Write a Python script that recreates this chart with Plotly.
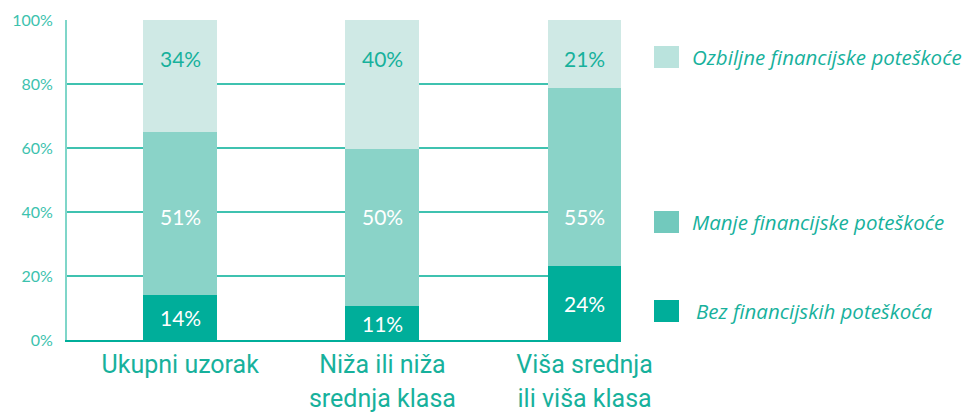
import plotly.graph_objects as go

categories = ["Ukupni uzorak", "Niža ili niža<br>srednja klasa", "Viša srednja<br>ili viša klasa"]
series_names = ["Bez financijskih poteškoća", "Manje financijske poteškoće", "Ozbiljne financijske poteškoće"]
# segment heights (unrounded shares)
bez = [14.1, 10.6, 23.1]
manje = [50.9, 49.1, 55.6]
ozbiljne = [35.0, 40.3, 21.3]
# labels as printed on the chart
bez_labels = ["14%", "11%", "24%"]
manje_labels = ["51%", "50%", "55%"]
ozbiljne_labels = ["34%", "40%", "21%"]
y_ticks = [0, 20, 40, 60, 80, 100]

bar_colors = ["#00AE9A", "#8AD3C8", "#CFE9E5"]
legend_colors = ["#00AE9A", "#72C9BD", "#BAE3DD"]
teal_text = "#17B19C"

# page body has an 8px margin; figure size/margins compensate for it
OFF = 8
W, H = 971 - OFF, 413 - OFF
L, R, T, B = 67 - OFF, 350, 20 - OFF, 73
pw, ph = W - L - R, H - T - B

def px_x(x):
    return (x - OFF - L) / pw

def px_y(y):
    return 1 - (y - OFF - T) / ph

fig = go.Figure()
series = [bez, manje, ozbiljne]
for name, vals, col in zip(series_names, series, bar_colors):
    fig.add_trace(go.Bar(x=categories, y=vals, name=name, marker=dict(color=col, line=dict(width=0)),
                         width=0.366, showlegend=False, hoverinfo="skip"))

annotations = []
# bar value labels
label_font = dict(family="Lato", size=21)
for i, c in enumerate(categories):
    annotations.append(dict(x=c, y=bez[i] / 2, xref="x", yref="y", text=bez_labels[i], showarrow=False,
                            font=dict(label_font, color="white")))
    annotations.append(dict(x=c, y=38.5, xref="x", yref="y", text=manje_labels[i], showarrow=False,
                            font=dict(label_font, color="white")))
    annotations.append(dict(x=c, y=88, xref="x", yref="y", text=ozbiljne_labels[i], showarrow=False,
                            font=dict(label_font, color=teal_text)))

# custom legend
legend_rows = [(311, 694), (222, 690), (57, 690)]
shapes = []
for (cy, tx), name, col in zip(legend_rows, series_names, legend_colors):
    shapes.append(dict(type="rect", xref="paper", yref="paper", x0=px_x(654), x1=px_x(679),
                       y0=px_y(cy + 11), y1=px_y(cy - 11), fillcolor=col, line=dict(width=0)))
    annotations.append(dict(x=px_x(tx), y=px_y(cy), xref="paper", yref="paper", xanchor="left",
                            yanchor="middle", showarrow=False, text=f"<i>{name}</i>",
                            font=dict(family="Open Sans", size=20.5, color=teal_text)))

ticktext = [f"<span style='font-size:25px'>{c}</span>" for c in categories]

fig.update_layout(
    width=W, height=H, barmode="stack", plot_bgcolor="white", paper_bgcolor="white",
    margin=dict(l=L, r=R, t=T, b=B, autoexpand=False), annotations=annotations, shapes=shapes,
    xaxis=dict(type="category", range=[-0.56, 2.18], tickvals=categories, ticktext=ticktext,
               tickfont=dict(family="Roboto", size=26, color=teal_text), showgrid=False,
               showline=True, linecolor="#00AE9A", linewidth=2, ticks="", automargin=False),
    yaxis=dict(range=[0, 100], tickvals=y_ticks, ticktext=[f"{v}%" for v in y_ticks],
               tickfont=dict(family="Lato", size=16, color="#3CC2AE"), showgrid=True,
               gridcolor="#3FC2B0", gridwidth=1.5, zeroline=False, showline=True,
               linecolor="#7FD6C9", linewidth=2, ticks="", ticklabelstandoff=9, automargin=False),
    font=dict(family="Lato"),
)

fig.write_html("out.html")
